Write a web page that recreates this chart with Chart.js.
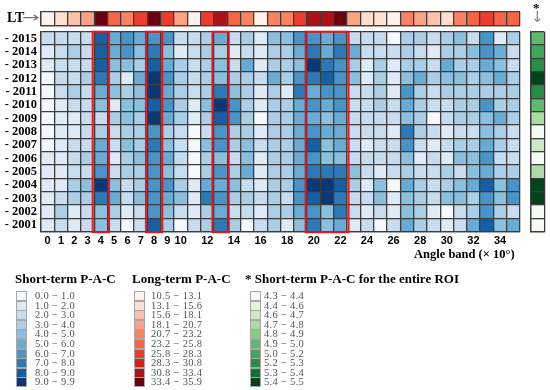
<!DOCTYPE html>
<html>
<head>
<meta charset="utf-8">
<script src="https://cdn.jsdelivr.net/npm/chart.js@4.4.0/dist/chart.umd.min.js"></script>
<style>
  body { margin: 0; background: #fff; }
  #wrap { position: relative; width: 550px; height: 390px; overflow: hidden; font-family: 'Liberation Serif', serif; }
  canvas { position: absolute; left: 0; top: 0; }
  .lbl { position: absolute; white-space: nowrap; line-height: 1; color: #000; }
  .title { font-weight: bold; font-size: 13px; }
  .item { position: absolute; height: 10px; white-space: nowrap; }
  .sw { position: absolute; left: 0; top: 0; width: 9px; height: 8px; border: 1px solid #a8a8a8; }
  .itxt { position: absolute; top: -1px; font-size: 10.5px; color: #555; letter-spacing: 0.3px; }
</style>
</head>
<body>
<div id="wrap">
  <canvas id="main" width="550" height="390"></canvas>
  <canvas id="lt" width="550" height="390"></canvas>
  <canvas id="roi" width="550" height="390"></canvas>

  <div class="lbl" style="left:7px; top:11px; font-weight:bold; font-size:14px;">LT</div>
  <div class="lbl" style="left:22px; top:10px; font-size:14px; color:#777; font-family:'DejaVu Sans'; transform:scaleX(1.5); transform-origin:0 0;">&#8594;</div>
  <div class="lbl" style="left:533px; top:1px; font-weight:bold; font-size:13px;">*</div>
  <div class="lbl" style="left:531px; top:10px; font-size:15px; color:#888; font-family:'DejaVu Sans';">&#8595;</div>
  <div class="lbl" style="left:414px; top:248px; font-weight:bold; font-size:12.5px;">Angle band (× 10°)</div>

  <div class="lbl title" style="left:15px; top:272px;">Short-term P-A-C</div>
  <div class="lbl title" style="left:132px; top:272px;">Long-term P-A-C</div>
  <div class="lbl title" style="left:245px; top:272px;">* Short-term P-A-C for the entire ROI</div>
  <div id="leg1" style="position:absolute; left:16px; top:291px;"></div>
  <div id="leg2" style="position:absolute; left:134px; top:291px;"></div>
  <div id="leg3" style="position:absolute; left:250px; top:291px;"></div>
</div>
<script>
// angle bands (x 10 degrees) and years
const bands = [0,1,2,3,4,5,6,7,8,9,10,11,12,13,14,15,16,17,18,19,20,21,22,23,24,25,26,27,28,29,30,31,32,33,34,35];
const bandTicks = [0,1,2,3,4,5,6,7,8,9,10,12,14,16,18,20,22,24,26,28,30,32,34];
const years = ['2001','2002','2003','2004','2005','2006','2007','2008','2009','2010','2011','2012','2013','2014','2015'];

// short-term P-A-C per year, one value per angle band
const y2001 = [1.4,2.5,1.5,2.4,4.5,2.5,0.6,2.4,8.5,3.5,0.5,2.4,3.5,7.4,3.5,0.6,2.4,3.5, 1.5,4.5,7.4,4.5,5.5,1.4,2.5,0.5,2.4,5.4,3.5,2.5,1.5,2.4,5.5,8.4,4.5,5.4];
const y2002 = [1.5,3.4,1.6,2.5,4.4,3.5,1.4,2.5,6.4,4.5,2.4,1.5,3.5,5.4,2.5,2.4,1.5,3.4, 3.5,5.5,6.4,4.5,7.3,2.5,1.4,2.5,1.5,4.5,3.4,1.5,0.5,2.4,3.5,6.4,3.5,2.5];
const y2003 = [1.5,2.4,3.5,3.4,7.5,5.4,2.5,4.4,6.5,5.5,4.3,1.4,7.4,6.5,3.4,3.5,2.4,3.5, 2.5,6.4,8.6,9.6,7.4,2.5,2.4,4.5,1.5,4.4,3.5,2.5,4.4,4.5,3.5,6.5,4.4,6.3];
const y2004 = [1.4,1.5,3.4,4.5,9.6,4.4,2.5,3.5,6.4,6.5,3.4,1.5,5.5,5.4,4.5,2.4,1.5,3.5, 3.4,6.5,9.7,9.8,8.5,3.5,1.4,4.4,0.5,5.4,3.5,2.5,3.4,4.5,5.4,8.4,4.5,6.4];
const y2005 = [1.5,1.4,2.5,2.4,6.4,2.5,3.4,3.5,6.5,4.4,2.5,0.4,3.5,6.4,3.3,5.5,1.6,3.4, 3.5,5.4,7.5,7.3,7.6,4.4,2.5,1.5,2.4,3.5,2.6,2.4,3.5,2.5,4.4,5.5,3.4,3.5];
const y2006 = [1.4,1.5,2.5,3.4,5.5,1.6,3.3,4.4,6.6,5.4,2.4,0.5,3.5,4.6,2.5,4.4,1.5,3.5, 3.4,5.5,6.4,4.5,4.3,2.5,2.4,2.6,2.5,4.5,1.4,2.5,1.6,4.4,4.5,6.4,2.5,2.4];
const y2007 = [0.6,1.5,2.4,2.5,5.4,2.3,4.5,3.4,7.5,4.4,2.6,0.4,4.3,6.5,3.4,4.5,2.5,3.4, 3.5,5.3,8.4,4.5,5.4,2.5,1.4,2.6,2.4,6.5,2.5,1.5,2.4,3.5,3.4,5.5,3.3,2.5];
const y2008 = [0.4,1.3,1.5,2.4,3.5,2.5,3.4,3.5,6.5,3.4,2.5,0.5,2.6,6.4,3.5,3.3,1.5,3.4, 3.5,5.4,6.5,5.3,5.5,2.4,2.6,2.5,1.4,7.3,3.4,2.5,1.6,2.4,2.5,4.4,3.5,2.6];
const y2009 = [0.5,1.4,1.6,2.5,2.4,3.5,4.3,3.4,9.5,5.4,3.3,1.5,3.6,8.5,6.4,3.3,0.6,3.5, 3.4,5.6,5.3,4.5,5.4,2.4,2.5,2.3,2.6,4.4,3.5,0.6,2.5,3.4,3.5,4.5,5.3,3.5];
const y2010 = [0.4,1.5,2.4,2.6,4.5,1.5,4.4,4.3,8.5,6.4,3.5,1.4,4.5,9.6,6.3,3.4,1.5,3.5, 3.4,5.5,6.3,5.4,6.4,2.5,2.3,3.4,2.5,5.5,3.3,2.4,2.6,3.5,3.4,6.3,3.5,3.4];
const y2011 = [0.5,2.3,3.4,2.5,5.5,4.4,3.3,4.5,9.4,5.6,3.3,2.4,3.4,7.5,4.3,3.6,1.4,3.5, 1.2,7.3,5.6,6.3,6.6,2.5,2.4,3.3,1.5,6.4,3.5,2.4,3.3,3.5,3.4,3.6,3.5,3.4];
const y2012 = [0.6,2.4,2.5,3.4,7.4,3.3,1.6,5.3,9.6,6.4,3.5,2.3,3.6,4.5,3.3,3.5,2.4,5.4, 3.5,6.4,7.6,8.4,6.5,4.3,1.5,3.4,1.6,4.5,5.3,3.4,4.3,4.5,3.5,4.6,5.5,3.4];
const y2013 = [1.5,2.4,2.6,2.5,8.5,4.3,4.6,3.4,8.6,5.3,3.4,2.5,3.6,4.4,2.3,5.4,1.5,3.3, 3.6,4.5,9.5,7.4,6.3,3.2,1.6,3.4,1.5,3.5,3.4,2.6,5.3,3.5,3.6,5.5,4.4,2.6];
const y2014 = [1.6,2.5,3.3,2.4,8.4,5.5,6.3,4.6,7.2,4.4,1.3,2.6,3.5,3.4,1.5,2.7,1.6,3.4, 3.5,5.4,7.5,5.2,7.4,5.3,2.4,2.5,2.6,3.5,2.4,1.6,3.3,3.5,4.4,6.6,5.3,2.5];
const y2015 = [2.5,2.4,2.6,2.3,8.6,5.4,6.5,5.3,6.4,6.2,2.5,2.4,3.5,5.6,2.3,3.4,1.6,4.5, 4.3,6.6,6.4,5.5,6.3,2.4,2.6,2.2,0.8,3.6,3.2,2.5,3.3,4.4,2.7,6.5,1.4,3.5];
const shortRows = [y2001,y2002,y2003,y2004,y2005,y2006,y2007,y2008,y2009,y2010,y2011,y2012,y2013,y2014,y2015];

// long-term P-A-C (top LT row), one value per angle band
const longTerm = [11.8,14.4,16.9,19.4,34.6,24.5,22.0,27.0,34.6,27.0,19.4,11.8,27.0,32.1,24.5,22.0,11.8,22.0, 22.0,27.0,32.1,32.1,34.6,19.4,14.4,14.4,11.8,22.0,19.4,16.9,14.4,22.0,24.5,27.0,24.5,24.5];

// short-term P-A-C for the entire ROI, one value per year (2001..2015)
const roiShort = [4.35,4.36,5.46,5.45,4.76,4.34,4.66,4.35,4.74,4.95,5.24,5.46,5.26,5.12,4.96];

// highlighted band groups (red boxes)
const highlights = [[4,4],[8,8],[13,13],[20,22]];

// legend classes
const shortBins = [[0.0,1.0],[1.0,2.0],[2.0,3.0],[3.0,4.0],[4.0,5.0],[5.0,6.0],[6.0,7.0],[7.0,8.0],[8.0,9.0],[9.0,9.9]];
const longBins = [[10.5,13.1],[13.1,15.6],[15.6,18.1],[18.1,20.7],[20.7,23.2],[23.2,25.8],[25.8,28.3],[28.3,30.8],[30.8,33.4],[33.4,35.9]];
const roiBins = [[4.3,4.4],[4.4,4.6],[4.6,4.7],[4.7,4.8],[4.8,4.9],[4.9,5.0],[5.0,5.2],[5.2,5.3],[5.3,5.4],[5.4,5.5]];

const blues = ['#f5f9fd','#deebf7','#c8dcef','#a9cee5','#8abfdd','#68abd4','#4893c7','#2c79b8','#1560a5','#0a3877'];
const reds = ['#fff1eb','#fedfd0','#fcc2a9','#fca285','#fb8363','#f76447','#ec3c2d','#d22220','#ae1117','#6b010f'];
const greens = ['#f5fbf2','#e3f4de','#cbeac4','#aadda3','#86cd81','#5fb96b','#3ea659','#268e46','#0e7135','#00441b'];

function colorFor(v, bins, pal) {
  for (let i = 0; i < bins.length; i++) {
    if (v < bins[i][1]) return pal[i];
  }
  return pal[pal.length - 1];
}

const lineCol = '#3d3d3d';
const lineW = 1.3;
// grid drawn over the cells
const gridOpts = (offset) => ({ z: 1, color: lineCol, lineWidth: lineW, drawTicks: false, offset: offset });
const borderOpts = { z: 1, color: lineCol, width: lineW };

const redBoxes = {
  id: 'redBoxes',
  afterDraw(chart) {
    const x = chart.scales.x, a = chart.chartArea, c = chart.ctx;
    const w = x.width / bands.length;
    c.save();
    c.strokeStyle = '#e8161b';
    c.lineWidth = 2;
    highlights.forEach(h => {
      const l = x.getPixelForValue(h[0]) - w / 2 - 1.5;
      const r = x.getPixelForValue(h[1]) + w / 2 + 1.5;
      c.strokeRect(l, a.top, r - l, a.bottom - a.top + 0.5);
    });
    c.restore();
  }
};

const base = {
  responsive: false,
  animation: false,
  plugins: { legend: { display: false }, tooltip: { enabled: false } }
};

// main grid
new Chart(document.getElementById('main'), {
  type: 'bar',
  data: {
    labels: bands,
    datasets: years.map((yr, i) => ({
      label: yr,
      data: bands.map(() => [i, i + 1]),
      backgroundColor: shortRows[i].map(v => colorFor(v, shortBins, blues)),
      borderWidth: 0,
      grouped: false,
      categoryPercentage: 1,
      barPercentage: 1
    }))
  },
  options: Object.assign({}, base, {
    layout: { padding: { left: 0, top: 31.7, right: 30, bottom: 140 } },
    scales: {
      x: {
        grid: gridOpts(true),
        border: borderOpts,
        ticks: {
          autoSkip: false, maxRotation: 0, padding: 3, color: '#000',
          font: { family: 'Liberation Sans', weight: 'bold', size: 11 },
          callback: (val, idx) => bandTicks.includes(bands[idx]) ? String(bands[idx]) : ''
        },
        afterFit: s => { s.height = 18.3; }
      },
      y: {
        min: 0, max: years.length,
        grid: gridOpts(false),
        border: borderOpts,
        ticks: {
          stepSize: 1, autoSkip: false, padding: 4, labelOffset: -6.67, color: '#000',
          font: { family: 'Liberation Serif', weight: 'bold', size: 12.5 },
          callback: v => v < years.length ? '- ' + years[v] : ''
        },
        afterFit: s => { s.width = 41; }
      }
    }
  }),
  plugins: [redBoxes]
});

// LT row
new Chart(document.getElementById('lt'), {
  type: 'bar',
  data: {
    labels: bands,
    datasets: [{
      data: bands.map(() => [0, 1]),
      backgroundColor: longTerm.map(v => colorFor(v, longBins, reds)),
      borderWidth: 0, categoryPercentage: 1, barPercentage: 1
    }]
  },
  options: Object.assign({}, base, {
    layout: { padding: { left: 41, top: 12, right: 30, bottom: 364.7 } },
    scales: {
      x: { grid: gridOpts(true), border: borderOpts, ticks: { display: false },
           afterFit: s => { s.height = 0; } },
      y: { min: 0, max: 1, grid: gridOpts(false), border: borderOpts,
           ticks: { display: false, stepSize: 1 },
           afterFit: s => { s.width = 0; } }
    }
  })
});

// ROI column
new Chart(document.getElementById('roi'), {
  type: 'bar',
  data: {
    labels: ['ROI'],
    datasets: years.map((yr, i) => ({
      label: yr,
      data: [[i, i + 1]],
      backgroundColor: colorFor(roiShort[i], roiBins, greens),
      borderWidth: 0, grouped: false, categoryPercentage: 1, barPercentage: 1
    }))
  },
  options: Object.assign({}, base, {
    layout: { padding: { left: 531, top: 31.7, right: 5.7, bottom: 158.3 } },
    scales: {
      x: { grid: gridOpts(true), border: borderOpts, ticks: { display: false },
           afterFit: s => { s.height = 0; } },
      y: { min: 0, max: years.length, grid: gridOpts(false), border: borderOpts,
           ticks: { display: false, stepSize: 1 },
           afterFit: s => { s.width = 0; } }
    }
  })
});

// legends
function buildLegend(id, bins, pal, textLeft) {
  const el = document.getElementById(id);
  bins.forEach((b, i) => {
    const it = document.createElement('div');
    it.className = 'item';
    it.style.top = (i * 9.6) + 'px';
    it.innerHTML = '<div class="sw" style="background:' + pal[i] + '"></div>' +
      '<div class="itxt" style="left:' + textLeft + 'px">' +
      b[0].toFixed(1) + ' − ' + b[1].toFixed(1) + '</div>';
    el.appendChild(it);
  });
}
buildLegend('leg1', shortBins, blues, 19);
buildLegend('leg2', longBins, reds, 17);
buildLegend('leg3', roiBins, greens, 14);
</script>
</body>
</html>
